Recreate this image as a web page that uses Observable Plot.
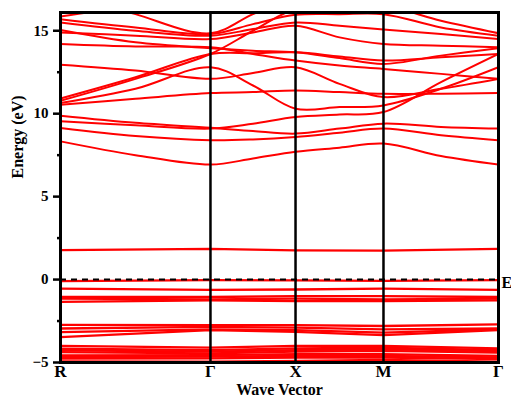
<!DOCTYPE html>
<html><head><meta charset="utf-8">
<script src="https://cdn.jsdelivr.net/npm/d3@7"></script>
<script src="https://cdn.jsdelivr.net/npm/@observablehq/plot@0.6"></script>
<style>body{margin:0;background:#fff} svg{overflow:visible}</style>
</head><body><div id="chart"></div>
<script>
// high-symmetry path positions (R, Γ, X, M, Γ)
const kTicks = [0, 1.712, 2.683, 3.687, 5.0];
const kLabels = ["R", "Γ", "X", "M", "Γ"];
const yTicks = [-5, 0, 5, 10, 15];
const yMinorTicks = [-2.5, 2.5, 7.5, 12.5];

// conduction bands: values at R, mid, Γ, mid, X, mid, M, mid, Γ (eV)
const conduction = [
  [8.33, 7.5, 6.93, 7.3, 7.7, 7.95, 8.2, 7.45, 6.93],
  [9.14, 8.65, 8.4, 8.45, 8.6, 8.85, 9.1, 8.7, 8.4],
  [9.54, 9.3, 9.1, 9.4, 9.8, 9.95, 10.1, 11.9, 13.6],
  [9.88, 9.45, 9.15, 8.95, 8.8, 9.1, 9.4, 9.2, 9.1],
  [10.54, 10.9, 11.24, 11.3, 11.4, 11.3, 11.2, 11.2, 11.24],
  [10.64, 11.5, 12.8, 11.7, 10.3, 10.4, 10.5, 11.5, 12.8],
  [10.78, 12.1, 13.6, 15.0, 16.3, 16.4, 16.5, 15.6, 14.85],
  [10.92, 12.2, 13.6, 13.65, 13.7, 13.45, 13.2, 13.4, 13.6],
  [12.95, 12.6, 12.1, 12.45, 12.8, 11.8, 11.0, 11.5, 12.1],
  [14.2, 14.05, 14.0, 13.6, 13.2, 12.9, 12.7, 12.4, 12.1],
  [15.04, 14.3, 13.95, 13.8, 13.7, 13.35, 13.0, 13.5, 13.95],
  [14.9, 14.7, 14.5, 14.9, 15.3, 14.6, 14.2, 14.1, 14.0],
  [15.5, 15.0, 14.7, 15.1, 15.5, 15.3, 15.08, 14.8, 14.5],
  [15.7, 15.2, 14.8, 15.4, 15.96, 16.0, 16.0, 15.2, 14.7],
  [15.86, 16.5, 17.0, 16.8, 16.5, 16.8, 17.0, 17.0, 17.0],
  [17.5, 16.0, 14.85, 16.0, 17.0, 17.0, 17.0, 16.8, 16.5]
];

// valence bands: values at R, Γ, X, M, Γ (eV)
const valence = [
  [1.78, 1.85, 1.76, 1.75, 1.85],
  [-0.1, -0.03, -0.05, -0.08, -0.03],
  [-0.55, -0.62, -0.6, -0.55, -0.62],
  [-1.05, -1.05, -1.0, -1.0, -1.05],
  [-1.15, -1.2, -1.15, -1.2, -1.15],
  [-1.35, -1.25, -1.3, -1.3, -1.25],
  [-2.73, -2.75, -2.75, -2.8, -2.7],
  [-2.95, -2.85, -2.9, -3.0, -2.95],
  [-3.17, -3.0, -3.05, -3.2, -3.0],
  [-3.47, -3.05, -3.15, -3.35, -3.05],
  [-4.0, -4.1, -4.0, -4.0, -4.15],
  [-4.17, -4.25, -4.15, -4.1, -4.25],
  [-4.27, -4.35, -4.25, -4.2, -4.32],
  [-4.37, -4.45, -4.35, -4.3, -4.4],
  [-4.57, -4.55, -4.5, -4.5, -4.6],
  [-4.67, -4.65, -4.6, -4.6, -4.7],
  [-4.77, -4.75, -4.7, -4.7, -4.8],
  [-4.93, -4.95, -4.9, -4.85, -4.95]
];

const kFine = kTicks.flatMap((k, i) => i < kTicks.length - 1 ? [k, (k + kTicks[i + 1]) / 2] : [k]);
const cRows = [];
conduction.forEach((b, bi) => b.forEach((e, i) => cRows.push({band: "c" + bi, k: kFine[i], e})));
const vRows = [];
valence.forEach((b, bi) => b.forEach((e, i) => vRows.push({band: "v" + bi, k: kTicks[i], e})));
const kLabelRows = kTicks.map((k, i) => ({k, label: kLabels[i]}));

const font = "'Liberation Serif', 'Times New Roman', serif";
const plot = Plot.plot({
  width: 511, height: 401,
  marginLeft: 60, marginRight: 13, marginTop: 12, marginBottom: 39,
  x: {domain: [0, 5], axis: null},
  y: {domain: [-5, 16.1]},
  style: {fontFamily: font, background: "#fff", color: "#000"},
  marks: [
    Plot.line(cRows, {x: "k", y: "e", z: "band", stroke: "#ff0000", strokeWidth: 2, curve: "catmull-rom", clip: true}),
    Plot.line(vRows, {x: "k", y: "e", z: "band", stroke: "#ff0000", strokeWidth: 2.3, clip: true}),
    Plot.ruleY([0], {stroke: "#000", strokeWidth: 2, strokeDasharray: "6,5"}),
    Plot.ruleX(kTicks.slice(1, 4), {stroke: "#000", strokeWidth: 2.5}),
    Plot.frame({stroke: "#000", strokeWidth: 3}),
    Plot.axisY({ticks: yTicks, tickSize: 7, tickPadding: 5, strokeWidth: 2.5, fontSize: 15, fontWeight: "bold", label: null, fontFamily: font}),
    Plot.axisY({ticks: yMinorTicks, tickSize: 3, strokeWidth: 2.5, text: null, label: null}),
    Plot.text(kLabelRows, {x: "k", text: "label", frameAnchor: "bottom", dy: 14, fontSize: 17, fontWeight: "bold", fontFamily: font}),
    Plot.text(["Wave Vector"], {text: d => d, frameAnchor: "bottom", dy: 32, fontSize: 16, fontWeight: "bold", fontFamily: font}),
    Plot.text(["Energy (eV)"], {text: d => d, frameAnchor: "left", dx: -43, dy: -9, rotate: -90, fontSize: 16, fontWeight: "bold", fontFamily: font}),
    Plot.text(["E"], {text: d => d, x: () => kTicks[4], y: () => 0, dx: 3, dy: 3, textAnchor: "start", fontSize: 16, fontWeight: "bold", fontFamily: font})
  ]
});
document.getElementById("chart").appendChild(plot);
</script>
</body></html>
